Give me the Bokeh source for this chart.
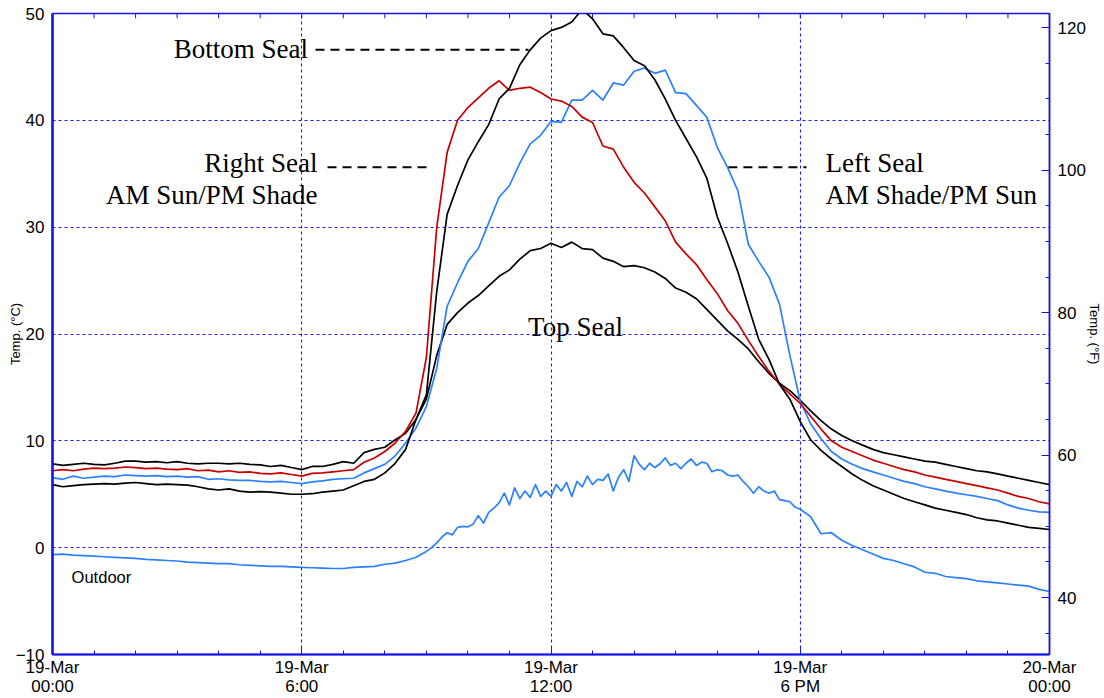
import numpy as np
from bokeh.plotting import figure
from bokeh.models import Range1d, LinearAxis, FixedTicker, Label
from bokeh.embed import file_html
from bokeh.resources import INLINE

# ---- data: 15-minute samples from 19-Mar 00:00 to 20-Mar 00:00 (hours) ----
hours = np.arange(97) * 0.25

top_seal = [
    7.85, 7.7, 7.8, 7.9, 7.8, 7.75, 7.9, 8.1, 8.1, 8.0, 8.05, 7.95, 8.05, 7.9, 7.85, 7.9,
    7.9, 7.85, 7.9, 7.8, 7.75, 7.6, 7.7, 7.5, 7.3, 7.6, 7.6, 7.8, 8.05, 7.9, 8.9, 9.2,
    9.4, 10.1, 10.7, 12.0, 13.9, 18.0, 20.9, 22.0, 22.9, 23.6, 24.5, 25.4, 26.0, 27.0, 27.8, 28.0,
    28.5, 28.1, 28.6, 28.0, 27.9, 27.1, 26.8, 26.3, 26.4, 26.2, 25.8, 25.2, 24.3, 23.9, 23.3, 22.3,
    21.3, 20.3, 19.5, 18.6, 17.4, 16.3, 15.4, 14.7, 13.8, 12.8, 11.9, 11.1, 10.5, 10.0, 9.6, 9.2,
    8.9, 8.7, 8.5, 8.3, 8.1, 8.0, 7.8, 7.6, 7.4, 7.2, 7.1, 6.9, 6.7, 6.5, 6.3, 6.1, 5.9,
]

bottom_seal = [
    5.9, 5.7, 5.8, 5.9, 5.95, 6.0, 5.95, 6.05, 6.1, 6.0, 5.9, 5.95, 5.9, 5.85, 5.7, 5.5,
    5.4, 5.5, 5.3, 5.2, 5.25, 5.2, 5.1, 5.0, 5.0, 5.05, 5.2, 5.3, 5.4, 5.8, 6.2, 6.4,
    7.0, 7.9, 9.2, 12.0, 14.3, 24.0, 31.2, 33.9, 36.3, 38.0, 39.6, 42.0, 43.0, 45.2, 46.6, 47.7,
    48.4, 48.7, 49.2, 50.4, 49.5, 48.1, 47.9, 46.8, 45.6, 45.1, 43.8, 42.0, 40.0, 38.3, 36.6, 34.6,
    31.0, 28.5, 25.8, 22.6, 19.5, 17.6, 15.3, 13.9, 11.8, 10.1, 9.1, 8.3, 7.6, 6.9, 6.3, 5.8,
    5.4, 5.0, 4.6, 4.3, 4.0, 3.7, 3.5, 3.3, 3.1, 2.8, 2.6, 2.5, 2.3, 2.1, 1.9, 1.8, 1.7,
]

right_seal = [
    7.2, 7.3, 7.2, 7.35, 7.45, 7.4, 7.45, 7.55, 7.5, 7.4, 7.45, 7.35, 7.3, 7.4, 7.2, 7.25,
    7.1, 7.2, 7.05, 7.1, 6.95, 6.9, 7.0, 6.85, 6.7, 6.95, 7.0, 7.1, 7.2, 7.3, 8.0, 8.4,
    9.0, 9.8, 10.9, 12.6, 17.8, 30.0, 37.0, 40.0, 41.2, 42.1, 43.0, 43.7, 42.8, 43.0, 43.1, 42.6,
    42.0, 41.8, 41.3, 40.3, 39.8, 37.6, 37.3, 35.6, 34.2, 33.2, 31.9, 30.6, 28.6, 27.5, 26.5, 25.1,
    23.8, 22.2, 21.0, 19.4, 17.9, 16.5, 15.3, 14.4, 13.5, 12.3, 11.1, 10.0, 9.4, 9.0, 8.6, 8.2,
    7.9, 7.6, 7.3, 7.1, 6.8, 6.6, 6.4, 6.2, 6.0, 5.8, 5.6, 5.4, 5.1, 4.8, 4.6, 4.3, 4.1,
]

left_seal = [
    6.55, 6.4, 6.7, 6.5, 6.6, 6.7, 6.65, 6.8, 6.75, 6.7, 6.75, 6.65, 6.7, 6.6, 6.65, 6.4,
    6.45, 6.35, 6.3, 6.3, 6.2, 6.15, 6.2, 6.1, 6.0, 6.15, 6.25, 6.4, 6.45, 6.5, 7.0, 7.4,
    7.8, 8.6, 9.8, 11.2, 13.2, 16.8, 22.6, 24.8, 26.8, 28.0, 30.4, 32.8, 33.9, 36.0, 37.8, 38.6,
    39.9, 39.8, 41.9, 41.9, 42.8, 41.9, 43.5, 43.3, 44.6, 44.9, 44.4, 44.7, 42.6, 42.5, 41.4, 40.3,
    37.5, 35.6, 33.4, 28.4, 26.8, 25.3, 22.8, 18.0, 13.7, 11.6, 10.2, 9.0, 8.3, 7.8, 7.4, 7.1,
    6.8, 6.5, 6.2, 6.0, 5.7, 5.5, 5.3, 5.1, 4.95, 4.8, 4.6, 4.4, 4.0, 3.7, 3.5, 3.35, 3.3,
]

# outdoor sensor: 15-minute samples at night, 7.5-minute samples 09:00-18:00
outdoor_hours = np.concatenate([np.arange(0, 9, 0.25), np.arange(9, 18, 0.125),
                                np.arange(18, 24.001, 0.25)])
outdoor = [
    # 00:00 - 08:45
    -0.65, -0.6, -0.7, -0.75, -0.8, -0.85, -0.9, -0.95, -1.0, -1.1, -1.15, -1.2,
    -1.25, -1.35, -1.4, -1.45, -1.5, -1.5, -1.6, -1.65, -1.7, -1.75, -1.75, -1.8,
    -1.85, -1.88, -1.92, -1.95, -1.95, -1.85, -1.8, -1.75, -1.55, -1.45, -1.2, -0.9,
    # 09:00 - 17:52
    -0.35, 0.0, 0.45, 1.0, 1.4, 1.2, 1.9, 2.0, 1.95, 2.2, 3.0, 2.3,
    3.3, 3.7, 4.2, 5.1, 4.0, 5.6, 4.6, 5.3, 4.7, 5.9, 4.8, 5.3,
    4.8, 5.9, 5.3, 6.1, 4.8, 6.2, 5.7, 6.7, 5.9, 6.4, 6.3, 6.9,
    5.3, 6.6, 7.3, 6.2, 8.6, 7.8, 7.3, 7.9, 7.5, 7.85, 8.4, 7.7,
    7.9, 7.4, 7.9, 8.3, 7.7, 8.0, 7.9, 7.1, 7.3, 7.2, 6.8, 6.7,
    6.8, 6.2, 5.7, 5.1, 5.7, 5.3, 5.1, 5.3, 4.5, 4.4, 4.3, 3.8,
    # 18:00 - 24:00
    3.6, 2.9, 1.3, 1.4, 0.7, 0.2, -0.2, -0.6, -1.0, -1.2, -1.5, -1.8,
    -2.3, -2.4, -2.7, -2.8, -2.9, -3.1, -3.2, -3.3, -3.4, -3.5, -3.6, -3.9, -4.1,
]

x_tick_values = [0, 6, 12, 18, 24]
x_tick_labels = ["19-Mar\n00:00", "19-Mar\n6:00", "19-Mar\n12:00", "19-Mar\n6 PM", "20-Mar\n00:00"]
x_minor_ticks = list(range(25))
c_ticks = [-10, 0, 10, 20, 30, 40, 50]
f_ticks = [40, 60, 80, 100, 120]
f_minor_ticks = list(range(35, 125, 5))

# annotation callouts: (hours, degC)
bottom_leader_x = [6.33, 11.46]
bottom_leader_y = [46.6, 46.6]
right_leader_x = [6.62, 9.1]
right_leader_y = [35.6, 35.6]
left_leader_x = [16.27, 18.15]
left_leader_y = [35.6, 35.6]

AXIS_BLUE = "#1414e6"
GRID_BLUE = "#1a1aff"
SERIES_BLUE = "#2a80ff"
SERIES_RED = "#c80000"
SANS = "Liberation Sans"
SERIF = "Liberation Serif"

p = figure(width=1104, height=698, x_range=Range1d(0, 24), y_range=Range1d(-10, 50),
           output_backend="svg", toolbar_location=None,
           min_border_left=52, min_border_right=55, min_border_top=13, min_border_bottom=43)
p.background_fill_color = "white"
p.border_fill_color = "white"
p.outline_line_color = AXIS_BLUE
p.outline_line_width = 1.5

p.extra_y_ranges = {"F": Range1d(32, 122)}

# bottom axis
xa = p.xaxis[0]
xa.ticker = FixedTicker(ticks=x_tick_values, minor_ticks=x_minor_ticks)
xa.major_label_overrides = dict(zip(x_tick_values, x_tick_labels))
xa.major_label_text_font = SANS
xa.major_label_text_font_size = "17px"
xa.major_label_text_line_height = 1.0
xa.major_label_text_color = "black"
xa.major_label_standoff = 3
xa.major_tick_in = 8
xa.major_tick_out = 0
xa.minor_tick_in = 4
xa.minor_tick_out = 0
xa.axis_line_color = AXIS_BLUE
xa.axis_line_width = 2
xa.major_tick_line_color = AXIS_BLUE
xa.minor_tick_line_color = AXIS_BLUE

# left axis
ya = p.yaxis[0]
ya.ticker = FixedTicker(ticks=c_ticks)
ya.major_label_text_font = SANS
ya.major_label_text_font_size = "17px"
ya.major_label_text_color = "black"
ya.major_label_standoff = 8
ya.major_tick_in = 0
ya.major_tick_out = 0
ya.minor_tick_in = 0
ya.minor_tick_out = 0
ya.axis_line_color = AXIS_BLUE
ya.axis_line_width = 2.5
ya.axis_label = "Temp. (°C)"
ya.axis_label_text_font = SANS
ya.axis_label_text_font_size = "13px"
ya.axis_label_text_font_style = "normal"
ya.axis_label_text_color = "black"
ya.axis_label_standoff = -10

# right axis (°F)
ra = LinearAxis(y_range_name="F", ticker=FixedTicker(ticks=f_ticks, minor_ticks=f_minor_ticks))
ra.major_label_text_font = SANS
ra.major_label_text_font_size = "17px"
ra.major_label_text_color = "black"
ra.major_label_standoff = 8
ra.major_tick_in = 8
ra.major_tick_out = 0
ra.minor_tick_in = 4
ra.minor_tick_out = 0
ra.axis_line_color = AXIS_BLUE
ra.axis_line_width = 1.5
ra.major_tick_line_color = AXIS_BLUE
ra.minor_tick_line_color = AXIS_BLUE
ra.axis_label = "Temp. (°F)"
ra.axis_label_text_font = SANS
ra.axis_label_text_font_size = "13px"
ra.axis_label_text_font_style = "normal"
ra.axis_label_text_color = "black"
ra.axis_label_standoff = -2
p.add_layout(ra, "right")

# grids
for g in (p.xgrid[0], p.ygrid[0]):
    g.grid_line_color = GRID_BLUE
    g.grid_line_dash = "3 3"
    g.grid_line_width = 1.1
p.xgrid[0].ticker = FixedTicker(ticks=[6, 12, 18])
p.ygrid[0].ticker = FixedTicker(ticks=[0, 10, 20, 30, 40])

# hourly tick marks hanging from the top edge of the frame
p.segment(x0=x_minor_ticks, y0=[50] * len(x_minor_ticks), x1=x_minor_ticks,
          y1=[49.55] * len(x_minor_ticks), line_color=AXIS_BLUE, line_width=1)

# series
lw = 1.7
p.line(outdoor_hours, outdoor, line_color=SERIES_BLUE, line_width=lw, line_join="round")
p.line(hours, top_seal, line_color="black", line_width=lw, line_join="round")
p.line(hours, left_seal, line_color=SERIES_BLUE, line_width=lw, line_join="round")
p.line(hours, right_seal, line_color=SERIES_RED, line_width=lw, line_join="round")
p.line(hours, bottom_seal, line_color="black", line_width=lw, line_join="round")

# leaders
for lx, ly in ((bottom_leader_x, bottom_leader_y), (right_leader_x, right_leader_y),
               (left_leader_x, left_leader_y)):
    p.line(lx, ly, line_color="black", line_width=2, line_dash="9 6")


def add_label(x, y, text, align, font=SERIF, size="27px"):
    p.add_layout(Label(x=x, y=y, text=text, text_font=font, text_font_size=size,
                       text_align=align, text_baseline="alphabetic", text_color="black"))


add_label(2.92, 46.65, "Bottom Seal", "left")
add_label(6.38, 36.0, "Right Seal", "right")
add_label(6.38, 33.05, "AM Sun/PM Shade", "right")
add_label(18.61, 36.0, "Left Seal", "left")
add_label(18.61, 33.05, "AM Shade/PM Sun", "left")
add_label(12.59, 20.65, "Top Seal", "center")
add_label(0.46, -2.7, "Outdoor", "left", font=SANS, size="16.5px")

open("out.html", "w").write(file_html(p, INLINE))
